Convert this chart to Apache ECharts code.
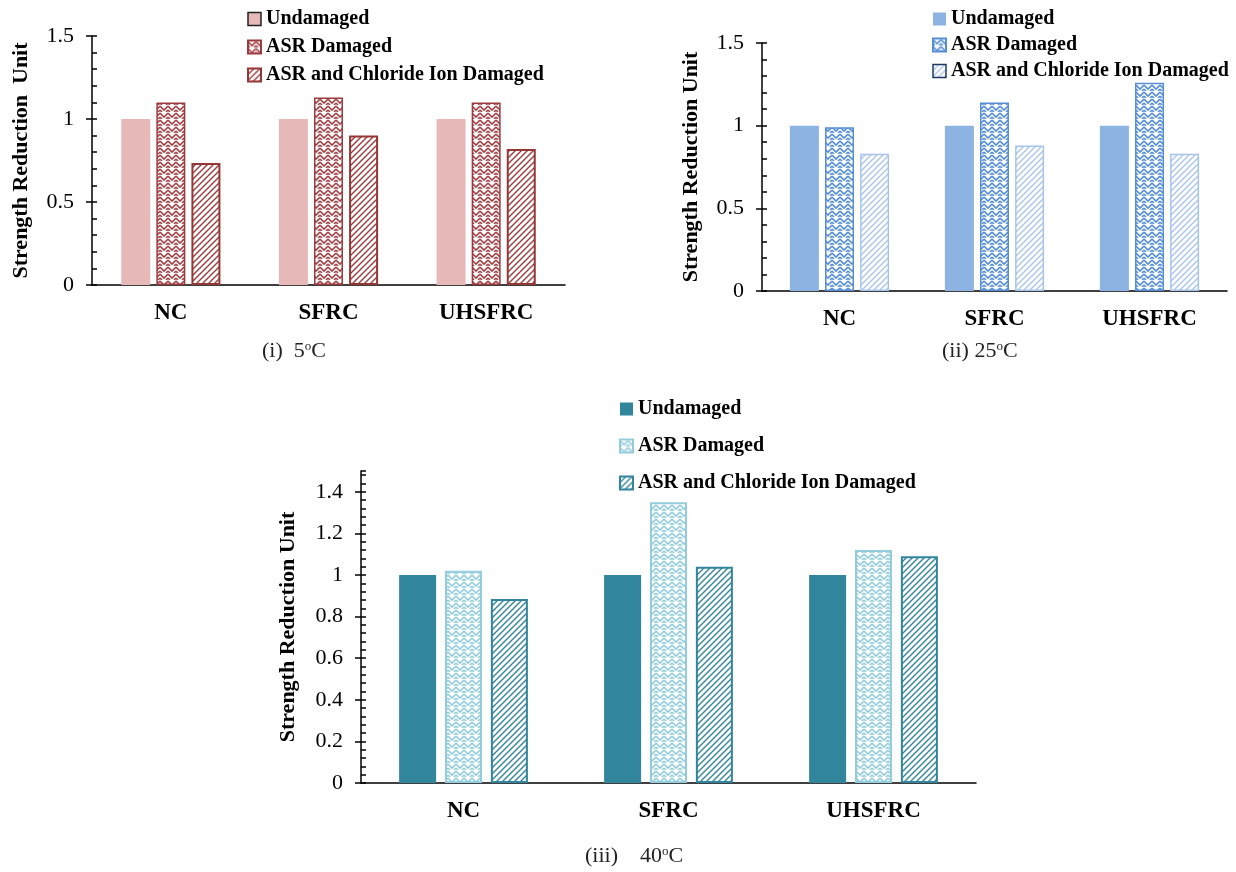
<!DOCTYPE html>
<html lang="en">
<head>
    <meta charset="UTF-8">
    <title>Strength Reduction Unit</title>
    <style>
        * {
            margin: 0;
            padding: 0;
        }

        body {
            background-color: #fff;
        }

        #chart {
            width: 1236px;
            height: 872px;
        }
    </style>
</head>
<body>
<div id="chart"></div>
<script src="https://cdn.jsdelivr.net/npm/echarts@6/dist/echarts.min.js"></script>
<script>
    var categories = ['NC', 'SFRC', 'UHSFRC'];
    var seriesNames = ['Undamaged', 'ASR Damaged', 'ASR and Chloride Ion Damaged'];

    // (i) 5oC
    var undamaged5 = [1, 1, 1];
    var asr5 = [1.10, 1.13, 1.10];
    var chloride5 = [0.735, 0.90, 0.82];

    // (ii) 25oC
    var undamaged25 = [1, 1, 1];
    var asr25 = [0.99, 1.14, 1.26];
    var chloride25 = [0.83, 0.88, 0.83];

    // (iii) 40oC
    var undamaged40 = [1, 1, 1];
    var asr40 = [1.02, 1.35, 1.12];
    var chloride40 = [0.885, 1.04, 1.09];

    var yTicks15 = [0, 0.5, 1, 1.5];
    var yTicks14 = [0, 0.2, 0.4, 0.6, 0.8, 1, 1.2, 1.4];

    var FONT = 'Liberation Serif';

    function pattern(kind, color) {
        var c = document.createElement('canvas');
        var ctx;
        if (kind === 'zigzag') {
            c.width = 8;
            c.height = 7;
            ctx = c.getContext('2d');
            ctx.fillStyle = '#fff';
            ctx.fillRect(0, 0, 8, 7);
            ctx.strokeStyle = color;
            ctx.lineWidth = 1.6;
            ctx.beginPath();
            ctx.moveTo(0, 1);
            ctx.lineTo(4, 5);
            ctx.lineTo(8, 1);
            ctx.moveTo(0, 5);
            ctx.lineTo(2, 7);
            ctx.moveTo(8, 5);
            ctx.lineTo(6, 7);
            ctx.stroke();
        } else {
            c.width = 6;
            c.height = 6;
            ctx = c.getContext('2d');
            ctx.fillStyle = '#fff';
            ctx.fillRect(0, 0, 6, 6);
            ctx.strokeStyle = color;
            ctx.lineWidth = 1.4;
            ctx.beginPath();
            ctx.moveTo(-1, 7);
            ctx.lineTo(7, -1);
            ctx.moveTo(-1, 1);
            ctx.lineTo(1, -1);
            ctx.moveTo(5, 7);
            ctx.lineTo(7, 5);
            ctx.stroke();
        }
        return {image: c, repeat: 'repeat'};
    }

    var charts = [
        {
            tag: '#1', data: [undamaged5, asr5, chloride5],
            grid: {left: 92, top: 36, width: 473, height: 249},
            max: 1.5, ticks: yTicks15, minor: 0.1, barWidth: 29, barGap: '21%',
            styles: [
                {color: '#e6b9b8'},
                {color: pattern('zigzag', '#a5444a'), borderColor: '#9c3a3c', borderWidth: 1.5},
                {color: pattern('diag', '#9c3a3c'), borderColor: '#953735', borderWidth: 2}
            ],
            iconBorders: ['#222', null, null],
            yName: 'Strength Reduction  Unit', nameGap: 60,
            legend: {left: 247, top: 9, itemGap: 8},
            caption: {text: '(i)  5{s|o}C', left: 262, top: 340}
        },
        {
            tag: '#2', data: [undamaged25, asr25, chloride25],
            grid: {left: 762, top: 43, width: 465, height: 248},
            max: 1.5, ticks: yTicks15, minor: 0.1, barWidth: 29, barGap: '21%',
            styles: [
                {color: '#8db3e2'},
                {color: pattern('zigzag', '#558ed5'), borderColor: '#558ed5', borderWidth: 1.5},
                {color: pattern('diag', '#a9c5ea'), borderColor: '#a6c4ea', borderWidth: 1.5}
            ],
            iconBorders: [null, null, '#1f3864'],
            yName: 'Strength Reduction Unit', nameGap: 60,
            legend: {left: 932, top: 9, itemGap: 6},
            caption: {text: '(ii) 25{s|o}C', left: 942, top: 340}
        },
        {
            tag: '#3', data: [undamaged40, asr40, chloride40],
            grid: {left: 361, top: 471, width: 615, height: 312},
            max: 1.5, ticks: yTicks14, minor: 0.04, barWidth: 37, barGap: '24%',
            styles: [
                {color: '#31859c'},
                {color: pattern('zigzag', '#93cddd'), borderColor: '#93cddd', borderWidth: 2},
                {color: pattern('diag', '#31859c'), borderColor: '#31859c', borderWidth: 2}
            ],
            iconBorders: [null, null, null],
            yName: 'Strength Reduction Unit', nameGap: 62,
            legend: {left: 619, top: 399, itemGap: 17},
            caption: {text: '(iii)    40{s|o}C', left: 585, top: 845}
        }
    ];

    var option = {
        backgroundColor: '#fff',
        animation: false,
        title: [],
        legend: [],
        grid: [],
        xAxis: [],
        yAxis: [],
        series: []
    };

    charts.forEach(function (c, i) {
        option.grid.push(c.grid);
        option.xAxis.push({
            type: 'category',
            gridIndex: i,
            data: categories,
            axisLine: {lineStyle: {color: '#000', width: 1.5}},
            axisTick: {inside: true, length: 6, lineStyle: {color: '#000', width: 1.5}},
            axisLabel: {
                margin: 17,
                fontFamily: FONT,
                fontSize: 23,
                fontWeight: 'bold',
                color: '#000'
            }
        });
        option.yAxis.push({
            type: 'value',
            gridIndex: i,
            min: 0,
            max: c.max,
            position: 'left',
            name: c.yName,
            nameLocation: 'middle',
            nameRotate: 90,
            nameGap: c.nameGap,
            nameTextStyle: {fontFamily: FONT, fontSize: 22, fontWeight: 'bold', color: '#000'},
            splitLine: {show: false},
            axisLine: {show: true, lineStyle: {color: '#000', width: 1.5}},
            axisTick: {show: true, length: 6, customValues: c.ticks, lineStyle: {color: '#000', width: 1.5}},
            axisLabel: {
                customValues: c.ticks,
                margin: 18,
                fontFamily: FONT,
                fontSize: 22,
                color: '#000'
            }
        });
        // minor ticks on the inside
        option.yAxis.push({
            type: 'value',
            gridIndex: i,
            min: 0,
            max: c.max,
            interval: c.minor,
            position: 'left',
            offset: 0,
            splitLine: {show: false},
            axisLine: {show: false},
            axisTick: {show: true, inside: true, length: 5, lineStyle: {color: '#000', width: 1.5}},
            axisLabel: {show: false}
        });
        option.title.push({
            text: c.caption.text,
            left: c.caption.left,
            top: c.caption.top,
            padding: 0,
            textStyle: {
                fontFamily: FONT,
                fontSize: 22,
                fontWeight: 'normal',
                color: '#222',
                rich: {
                    s: {fontFamily: FONT, fontSize: 13, color: '#222', padding: [0, 0, 10, 0]}
                }
            }
        });
        option.legend.push({
            orient: 'vertical',
            left: c.legend.left,
            top: c.legend.top,
            itemGap: c.legend.itemGap,
            itemWidth: 13,
            itemHeight: 13,
            padding: 0,
            icon: 'rect',
            selectedMode: false,
            data: seriesNames.map(function (n, k) {
                var d = {name: n + c.tag};
                if (c.iconBorders[k]) {
                    d.itemStyle = {borderColor: c.iconBorders[k], borderWidth: 1.5};
                }
                return d;
            }),
            formatter: function (name) {
                return name.split('#')[0];
            },
            textStyle: {fontFamily: FONT, fontSize: 20, fontWeight: 'bold', color: '#000'}
        });
        seriesNames.forEach(function (n, k) {
            option.series.push({
                name: n + c.tag,
                type: 'bar',
                xAxisIndex: i,
                yAxisIndex: i * 2,
                barWidth: c.barWidth,
                barGap: c.barGap,
                itemStyle: c.styles[k],
                data: c.data[k]
            });
        });
    });

    var mychart = echarts.init(document.getElementById('chart'));
    mychart.setOption(option);
</script>
</body>
</html>
